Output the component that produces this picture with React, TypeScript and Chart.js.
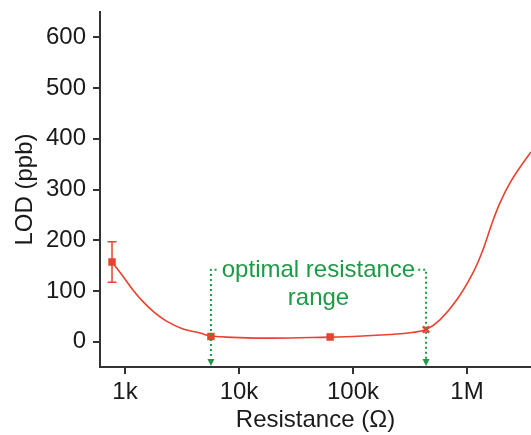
import React, { useEffect, useRef } from "react";
import { Chart, registerables } from "chart.js";

Chart.register(...registerables);

// Fitted curve
const curveR = [770, 960, 1175, 1439, 1763, 2335, 3230, 4550, 5675, 10200, 20000, 63000, 100000, 211000, 330000, 437000, 579000, 817000, 1130000, 1380000, 1660000, 1950000, 2380000, 2920000, 3640000];
const curveLOD = [157, 129, 102, 79, 60, 40, 25, 17, 11, 8, 7, 9, 10, 14, 18, 24, 43, 83, 136, 181, 234, 274, 313, 344, 374];

// Measured points
const pointR = [770, 5675, 63000, 437000];
const pointLOD = [157, 10, 9, 24];
const pointErr = [40, 0, 0, 0];
const pointStyles = ["rect", "rect", "rect", "crossRot"];

// Axes
const xTickValues = [1000, 10000, 100000, 1000000];
const xTickLabels = ["1k", "10k", "100k", "1M"];
const yTickValues = [0, 100, 200, 300, 400, 500, 600];

// Annotation
const rangeStart = 5675;
const rangeEnd = 437000;
const bracketLOD = 142;
const annotationLines = ["optimal resistance", "range"];

const RED = "#e8432e";
const GREEN = "#1d9a45";
const AXIS = "#333333";
const FONT = "'Liberation Sans', Arial, sans-serif";

const overlayPlugin = {
  id: "overlay",
  afterDatasetsDraw(chart: any) {
    const { ctx, scales, chartArea } = chart;
    const xs = scales.x;
    const ys = scales.y;
    ctx.save();
    // error bars
    ctx.strokeStyle = RED;
    ctx.lineWidth = 1.5;
    pointR.forEach((r, i) => {
      const e = pointErr[i];
      if (!e) return;
      const px = xs.getPixelForValue(r);
      const yt = ys.getPixelForValue(pointLOD[i] + e);
      const yb = ys.getPixelForValue(pointLOD[i] - e);
      ctx.beginPath();
      ctx.moveTo(px, yt);
      ctx.lineTo(px, yb);
      ctx.moveTo(px - 4.5, yt);
      ctx.lineTo(px + 4.5, yt);
      ctx.moveTo(px - 4.5, yb);
      ctx.lineTo(px + 4.5, yb);
      ctx.stroke();
    });

    // annotation
    const x1 = xs.getPixelForValue(rangeStart);
    const x2 = xs.getPixelForValue(rangeEnd);
    const yB = ys.getPixelForValue(bracketLOD);
    const bottom = chartArea.bottom;
    ctx.font = `24px ${FONT}`;
    ctx.fillStyle = GREEN;
    ctx.textAlign = "center";
    ctx.textBaseline = "middle";
    const cx = (x1 + x2) / 2;
    ctx.fillText(annotationLines[0], cx, yB + 1);
    ctx.fillText(annotationLines[1], cx, yB + 29);
    const tw = ctx.measureText(annotationLines[0]).width;

    ctx.strokeStyle = GREEN;
    ctx.lineWidth = 2;
    ctx.setLineDash([2, 3]);
    ctx.beginPath();
    ctx.moveTo(x1, bottom - 6);
    ctx.lineTo(x1, yB);
    ctx.lineTo(cx - tw / 2 - 3, yB);
    ctx.moveTo(cx + tw / 2 + 3, yB);
    ctx.lineTo(x2, yB);
    ctx.lineTo(x2, bottom - 6);
    ctx.stroke();
    ctx.setLineDash([]);
    [x1, x2].forEach((x) => {
      ctx.beginPath();
      ctx.moveTo(x - 3.5, bottom - 8);
      ctx.lineTo(x + 3.5, bottom - 8);
      ctx.lineTo(x, bottom - 1);
      ctx.closePath();
      ctx.fill();
    });
    ctx.restore();
  },
};

export default function App() {
  const ref = useRef<HTMLCanvasElement>(null);
  useEffect(() => {
    if (!ref.current) return;
    const chart = new Chart(ref.current, {
      type: "line",
      data: {
        datasets: [
          {
            type: "line",
            data: curveR.map((r, i) => ({ x: r, y: curveLOD[i] })),
            borderColor: RED,
            borderWidth: 1.6,
            pointRadius: 0,
            tension: 0.4,
            fill: false,
          } as any,
          {
            type: "scatter",
            data: pointR.map((r, i) => ({ x: r, y: pointLOD[i] })),
            backgroundColor: RED,
            borderColor: RED,
            borderWidth: 2.5,
            pointStyle: pointStyles as any,
            pointRadius: [3.5, 3.5, 3.5, 4.5],
            showLine: false,
          } as any,
        ],
      },
      plugins: [overlayPlugin],
      options: {
        responsive: false,
        animation: false,
        events: [],
        layout: { autoPadding: false, padding: { top: 12, right: 0, left: 0, bottom: 0 } },
        plugins: { legend: { display: false }, tooltip: { enabled: false } },
        scales: {
          x: {
            type: "logarithmic",
            min: 604,
            max: 3640000,
            afterFit: (s: any) => {
              s.height = 68;
              s.paddingLeft = 0;
              s.paddingRight = 0;
            },
            afterBuildTicks: (s: any) => {
              s.ticks = xTickValues.map((v) => ({ value: v }));
            },
            ticks: {
              autoSkip: false,
              maxRotation: 0,
              padding: 4,
              color: "#1a1a1a",
              font: { family: FONT, size: 24 },
              callback: (_v: any, i: number) => xTickLabels[i],
            },
            grid: {
              display: true,
              drawOnChartArea: false,
              drawTicks: true,
              tickLength: 7,
              color: AXIS,
              lineWidth: 2,
            },
            border: { display: true, color: AXIS, width: 2 },
            title: {
              display: true,
              text: "Resistance (Ω)",
              color: "#1a1a1a",
              font: { family: FONT, size: 24 },
              padding: { top: 0, bottom: 0 },
            },
          },
          y: {
            type: "linear",
            min: -50,
            max: 650,
            afterFit: (s: any) => {
              s.width = 100;
              s.paddingTop = 0;
              s.paddingBottom = 0;
            },
            afterBuildTicks: (s: any) => {
              s.ticks = yTickValues.map((v) => ({ value: v }));
            },
            ticks: {
              padding: 7,
              color: "#1a1a1a",
              font: { family: FONT, size: 24 },
              callback: (v: any) => String(v),
            },
            grid: {
              display: true,
              drawOnChartArea: false,
              drawTicks: true,
              tickLength: 7,
              color: AXIS,
              lineWidth: 2,
            },
            border: { display: true, color: AXIS, width: 2 },
            title: {
              display: true,
              text: "LOD (ppb)",
              color: "#1a1a1a",
              font: { family: FONT, size: 24 },
              padding: { top: 11, bottom: 0 },
            },
          },
        },
      },
    });
    return () => chart.destroy();
  }, []);
  return (
    <div style={{ position: "absolute", left: 0, top: 0, width: 531, height: 435, background: "#fff" }}>
      <canvas ref={ref} width={531} height={435} style={{ display: "block" }} />
    </div>
  );
}
